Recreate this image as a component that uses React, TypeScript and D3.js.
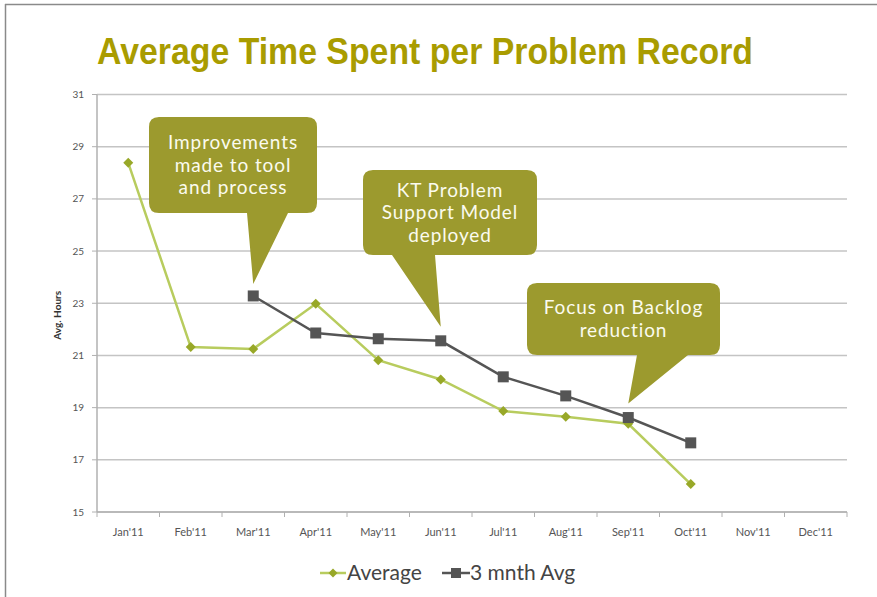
import React from "react";
import * as d3 from "d3";

const categories = ["Jan'11", "Feb'11", "Mar'11", "Apr'11", "May'11", "Jun'11", "Jul'11", "Aug'11", "Sep'11", "Oct'11", "Nov'11", "Dec'11"];
const averageValues: (number | null)[] = [28.38, 21.32, 21.25, 22.98, 20.82, 20.08, 18.87, 18.65, 18.38, 16.07, null, null];
const threeMonthValues: (number | null)[] = [null, null, 23.28, 21.86, 21.64, 21.56, 20.18, 19.45, 18.62, 17.65, null, null];
const yTicks = [15, 17, 19, 21, 23, 25, 27, 29, 31];
const titleText = "Average Time Spent per Problem Record";
const yAxisTitle = "Avg. Hours";
const seriesNames = ["Average", "3 mnth Avg"];

type Callout = { lines: string[]; box: [number, number, number, number]; base: [number, number]; tipIdx: number; tipVal: number; tipDy: number };
const callouts: Callout[] = [
  { lines: ["Improvements", "made to tool", "and process"], box: [149, 117, 317, 213], base: [247, 288], tipIdx: 2, tipVal: 23.28, tipDy: -12 },
  { lines: ["KT Problem", "Support Model", "deployed"], box: [363, 170, 537, 255], base: [392, 435], tipIdx: 5, tipVal: 21.56, tipDy: -14 },
  { lines: ["Focus on Backlog", "reduction"], box: [527, 283, 720, 355], base: [637, 688], tipIdx: 8, tipVal: 18.62, tipDy: -14 },
];

const W = 877, H = 597;
const left = 97, right = 847, top = 94.5, bottom = 512;

export default function App() {
  const x = d3.scaleBand<string>().domain(categories).range([left, right]);
  const y = d3.scaleLinear().domain([15, 31]).range([bottom, top]);
  const cx = (i: number) => (x(categories[i]) as number) + x.bandwidth() / 2;

  const line = d3.line<[number, number | null]>()
    .defined(d => d[1] !== null)
    .x(d => cx(d[0]))
    .y(d => y(d[1] as number));

  const avgPts: [number, number | null][] = averageValues.map((v, i) => [i, v]);
  const tmaPts: [number, number | null][] = threeMonthValues.map((v, i) => [i, v]);

  const olive = "#9C9A2E";
  const avgLine = "#B8CC5E";
  const avgMarker = "#98A828";
  const grey = "#555555";
  const font = "Lato, 'Open Sans', sans-serif";

  const diamond = (px: number, py: number, s: number) => `M${px},${py - s}L${px + s},${py}L${px},${py + s}L${px - s},${py}Z`;

  return (
    <svg width={W} height={H} style={{ position: "absolute", left: 0, top: 0 }} xmlns="http://www.w3.org/2000/svg">
      <rect x={0} y={0} width={W} height={H} fill="#fff" />
      <line x1={5} y1={4.5} x2={W} y2={4.5} stroke="#8a8a8a" strokeWidth={1.5} />
      <line x1={5.5} y1={4} x2={5.5} y2={H} stroke="#8a8a8a" strokeWidth={1.5} />

      <text x={97} y={64} fontFamily="'Liberation Sans Narrow', 'Liberation Sans', Arial, sans-serif" fontWeight="bold" fontSize={37} fill="#A99C00" textLength={656} lengthAdjust="spacingAndGlyphs">{titleText}</text>

      {yTicks.map(t => (
        <g key={t}>
          <line x1={left} x2={right} y1={y(t)} y2={y(t)} stroke="#c4c4c4" strokeWidth={1.5} />
          <line x1={left - 5} x2={left} y1={y(t)} y2={y(t)} stroke="#b0b0b0" strokeWidth={1} />
          <text x={84} y={y(t) + 3.5} textAnchor="end" fontFamily={font} fontSize={10} fill="#555">{t}</text>
        </g>
      ))}
      <line x1={left} x2={left} y1={top} y2={bottom} stroke="#b0b0b0" strokeWidth={1.5} />
      <line x1={left} x2={right} y1={bottom} y2={bottom} stroke="#b0b0b0" strokeWidth={1.5} />
      {categories.map((c, i) => (
        <g key={c}>
          <line x1={(x(c) as number)} x2={(x(c) as number)} y1={bottom} y2={bottom + 5} stroke="#b0b0b0" />
          <text x={cx(i)} y={536} textAnchor="middle" fontFamily={font} fontSize={11} fill="#555">{c}</text>
        </g>
      ))}
      <line x1={right} x2={right} y1={bottom} y2={bottom + 5} stroke="#b0b0b0" />
      <text transform={`translate(61,${(top + bottom) / 2 + 12}) rotate(-90)`} textAnchor="middle" fontFamily={font} fontWeight="bold" fontSize={10} fill="#333">{yAxisTitle}</text>

      <path d={line(avgPts) || ""} fill="none" stroke={avgLine} strokeWidth={2.5} />
      <path d={line(tmaPts) || ""} fill="none" stroke={grey} strokeWidth={2.5} />
      {avgPts.filter(d => d[1] !== null).map(d => (
        <path key={"a" + d[0]} d={diamond(cx(d[0]), y(d[1] as number), 5)} fill={avgMarker} />
      ))}
      {tmaPts.filter(d => d[1] !== null).map(d => (
        <rect key={"t" + d[0]} x={cx(d[0]) - 5.5} y={y(d[1] as number) - 5.5} width={11} height={11} fill={grey} />
      ))}

      {callouts.map((c, k) => {
        const [x0, y0, x1, y1] = c.box;
        const r = 10;
        const tx = cx(c.tipIdx), ty = y(c.tipVal) + c.tipDy;
        const [b0, b1] = c.base;
        const d = `M${x0 + r},${y0}H${x1 - r}Q${x1},${y0} ${x1},${y0 + r}V${y1 - r}Q${x1},${y1} ${x1 - r},${y1}H${b1}L${tx},${ty}L${b0},${y1}H${x0 + r}Q${x0},${y1} ${x0},${y1 - r}V${y0 + r}Q${x0},${y0} ${x0 + r},${y0}Z`;
        const mid = (x0 + x1) / 2;
        const lh = 22.5;
        const startY = (y0 + y1) / 2 - ((c.lines.length - 1) * lh) / 2 + 6.5;
        return (
          <g key={k}>
            <path d={d} fill={olive} />
            {c.lines.map((l, j) => (
              <text key={j} x={mid} y={startY + j * lh} textAnchor="middle" fontFamily={font} fontSize={19} letterSpacing={0.9} fill="#FBFBEF">{l}</text>
            ))}
          </g>
        );
      })}

      <g>
        <line x1={320} x2={346} y1={573} y2={573} stroke={avgLine} strokeWidth={2.5} />
        <path d={diamond(333, 573, 4.5)} fill={avgMarker} />
        <text x={347} y={580} fontFamily={font} fontSize={21} fill="#444">{seriesNames[0]}</text>
        <line x1={442} x2={470} y1={573} y2={573} stroke={grey} strokeWidth={2.5} />
        <rect x={451} y={568} width={10} height={10} fill={grey} />
        <text x={470} y={580} fontFamily={font} fontSize={21} fill="#444">{seriesNames[1]}</text>
      </g>
    </svg>
  );
}
